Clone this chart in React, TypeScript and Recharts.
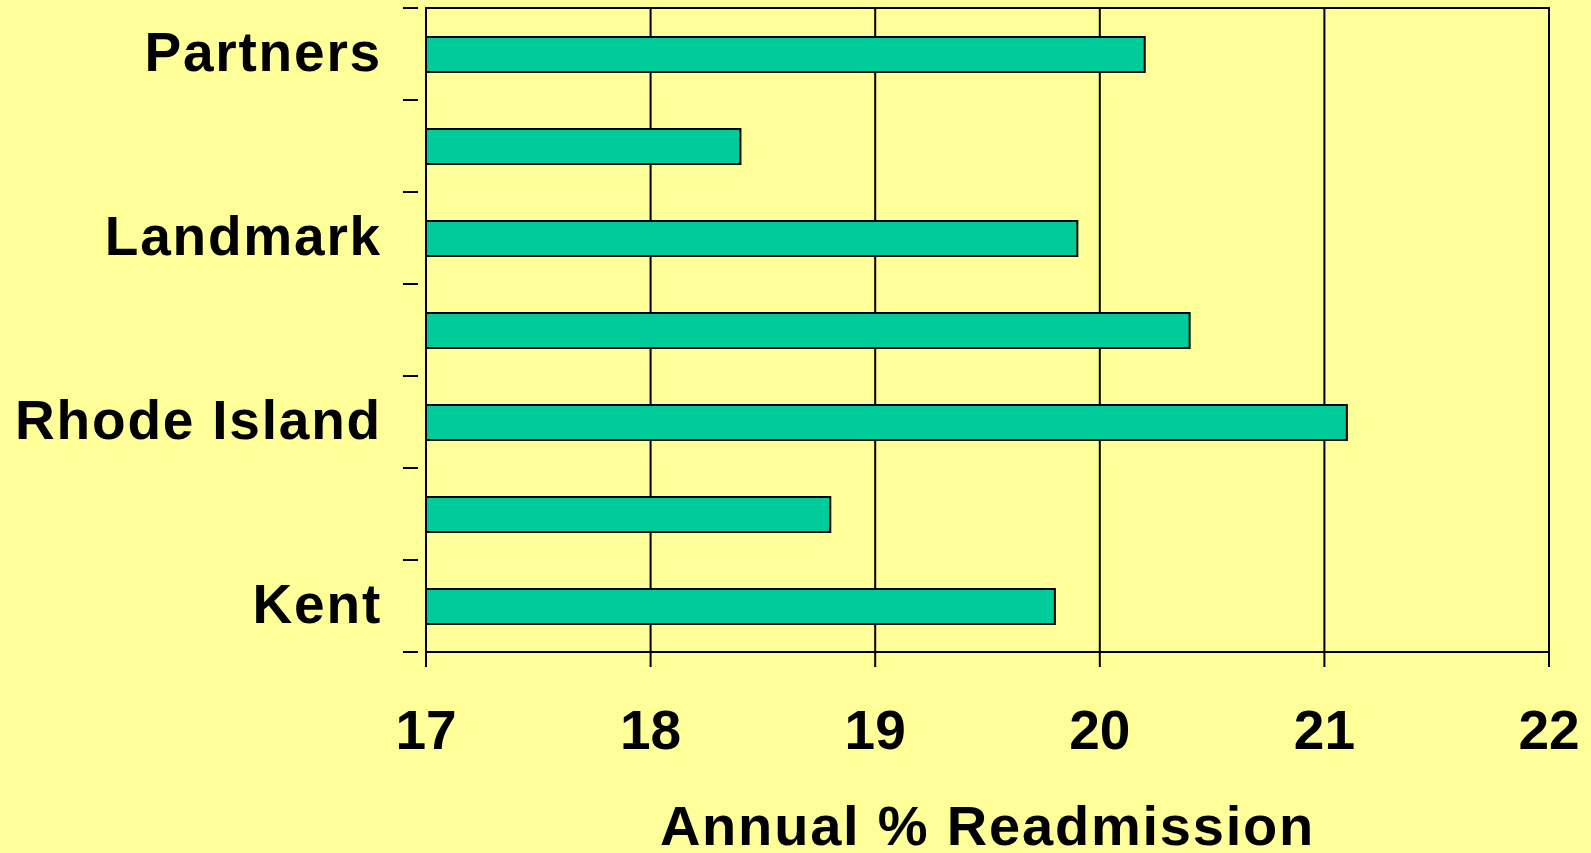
import React from 'react';
import {
  BarChart, Bar, XAxis, YAxis, CartesianGrid, ReferenceArea, Label
} from 'recharts';

// hospitals, top to bottom; unlabeled rows are left blank as in the source
const hospitals = ['Partners', '', 'Landmark', '', 'Rhode Island', '', 'Kent'];
const readmission = [20.2, 18.4, 19.9, 20.4, 21.1, 18.8, 19.8];
const xTicks = [17, 18, 19, 20, 21, 22];

const data = hospitals.map((name, i) => ({ name, value: readmission[i] }));

const FONT = '"Liberation Sans", Arial, sans-serif';

const HospitalTick = (props: any) => {
  const { x, y, payload, index, visibleTicksCount } = props;
  const half = payload && payload.offset ? payload.offset : 46;
  const axisX = x;
  return (
    <g>
      <line x1={axisX - 15} y1={y - half} x2={axisX} y2={y - half} stroke="#000" strokeWidth={2} />
      {index === visibleTicksCount - 1 && (
        <line x1={axisX - 15} y1={y + half} x2={axisX} y2={y + half} stroke="#000" strokeWidth={2} />
      )}
      <text
        x={axisX - 36}
        y={y - 2}
        textAnchor="end"
        dominantBaseline="central"
        fontFamily={FONT}
        fontWeight="bold"
        fontSize={55}
        letterSpacing={1.8}
        fill="#000"
      >
        {payload.value}
      </text>
    </g>
  );
};

const App: React.FC = () => {
  return (
    <div style={{ position: 'fixed', left: 0, top: 0, width: 1591, height: 853, background: '#FFFF99' }}>
      <BarChart
        width={1591}
        height={853}
        data={data}
        layout="vertical"
        margin={{ top: 8, right: 42, bottom: 0, left: 0 }}
        barSize={35}
      >
        <CartesianGrid horizontal={false} vertical stroke="#000" strokeWidth={2} />
        <ReferenceArea x1={17} x2={22} fill="none" stroke="#000" strokeWidth={2} fillOpacity={0} />
        <XAxis
          type="number"
          domain={[17, 22]}
          ticks={xTicks}
          interval={0}
          height={201}
          tickSize={15}
          tickMargin={43}
          axisLine={{ stroke: '#000', strokeWidth: 2 }}
          tickLine={{ stroke: '#000', strokeWidth: 2 }}
          tick={{ fill: '#000', fontSize: 55, fontWeight: 'bold', fontFamily: FONT }}
        >
          <Label
            value="Annual % Readmission"
            position="insideBottom"
            offset={8}
            style={{ fill: '#000', fontSize: 56, fontWeight: 'bold', fontFamily: FONT, letterSpacing: 1.8 }}
          />
        </XAxis>
        <YAxis
          type="category"
          dataKey="name"
          width={426}
          interval={0}
          axisLine={{ stroke: '#000', strokeWidth: 2 }}
          tickLine={false}
          tick={<HospitalTick />}
        />
        <Bar dataKey="value" fill="#00CC99" stroke="#000" strokeWidth={2} isAnimationActive={false} />
      </BarChart>
    </div>
  );
};

export default App;
